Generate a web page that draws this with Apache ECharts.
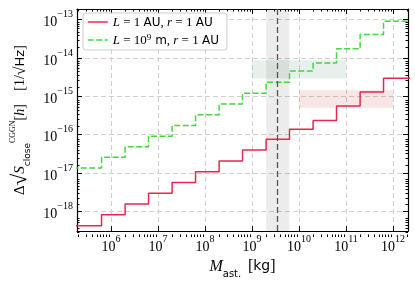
<!DOCTYPE html>
<html><head><meta charset="utf-8">
<script src="https://cdn.jsdelivr.net/npm/echarts@6/dist/echarts.min.js"></script>
<style>html,body{margin:0;padding:0;background:#fff}#c{width:415px;height:284px}</style>
</head><body><div id="c"></div>
<script>
// ---- data ----
const massEdges = [1.5e5, 6.3e5, 2e6, 6.3e6, 2e7, 6.3e7, 2e8, 6.3e8, 2e9, 6.3e9, 2e10, 6.3e10, 2e11, 6.3e11, 3e12];
const redValues = [4.17e-19, 8.1e-19, 1.55e-18, 2.95e-18, 5.6e-18, 1.07e-17, 2.04e-17, 3.98e-17, 7.6e-17, 1.38e-16, 2.34e-16, 5.6e-16, 1.29e-15, 2.95e-15];
const greenValues = [1.35e-17, 2.57e-17, 4.8e-17, 9.1e-17, 1.74e-16, 3.3e-16, 6.3e-16, 1.2e-15, 2.34e-15, 4.6e-15, 7.4e-15, 1.74e-14, 4.1e-14, 9.1e-14];
const seriesNames = ['red', 'green'];
const xTickValues = [1e6, 1e7, 1e8, 1e9, 1e10, 1e11, 1e12];
const yTickValues = [1e-18, 1e-17, 1e-16, 1e-15, 1e-14, 1e-13];
const xRange = [Math.pow(10, 5.277), Math.pow(10, 12.32)];
const yRange = [Math.pow(10, -18.52), Math.pow(10, -12.72)];
const massBand = [2.0e9, 6.2e9];
const massLine = 3.4e9;
const greenBoxX = [1e9, 1e11];
const greenBoxY = [2.9e-15, 8.7e-15];
const redBoxX = [1e10, 1e12];
const redBoxY = [5.0e-16, 1.45e-15];

// ---- helpers ----
function minorTicks(lo, hi) {
  const out = [];
  const e0 = Math.floor(Math.log10(lo)), e1 = Math.ceil(Math.log10(hi));
  for (let e = e0; e <= e1; e++) for (let k = 2; k <= 9; k++) {
    const v = k * Math.pow(10, e);
    if (v >= lo && v <= hi) out.push(v);
  }
  return out;
}
function expLabel(v) {
  const e = Math.round(Math.log10(v));
  return '{b|10}{s|' + (e < 0 ? '\u2212' + (-e) : e) + '}';
}
function steps(vals) {
  const d = vals.map((v, i) => [massEdges[i], v]);
  d.push([massEdges[massEdges.length - 1], vals[vals.length - 1]]);
  return d;
}
const SERIF = "'Liberation Serif','DejaVu Serif',serif";
const SANS = "'DejaVu Sans','Liberation Sans',sans-serif";
const RED = '#e8274f', GREEN = '#44d444';
const tickRich = {
  b: { fontFamily: SERIF, fontSize: 14, color: '#000', lineHeight: 20, verticalAlign: 'bottom' },
  s: { fontFamily: SERIF, fontSize: 10, color: '#000', lineHeight: 10, verticalAlign: 'top' }
};
const xMinor = minorTicks(xRange[0], xRange[1]);
const yMinor = minorTicks(yRange[0], yRange[1]);
const frame = { show: true, lineStyle: { color: '#000', width: 1.2 } };

function xAx(grid, pos, major, labels) {
  return {
    type: 'log', gridIndex: grid, position: pos, min: xRange[0], max: xRange[1],
    axisLine: major ? frame : { show: false },
    axisTick: { show: true, inside: true, length: major ? 5 : 2.5, customValues: major ? xTickValues : xMinor, lineStyle: { color: '#000', width: 1 } },
    axisLabel: labels ? { show: true, customValues: xTickValues, formatter: expLabel, rich: tickRich, margin: 3, color: '#000' } : { show: false },
    splitLine: labels ? { show: true, lineStyle: { type: [5, 3], color: '#d0d0d0', width: 1 } } : { show: false },
    minorTick: { show: false }, minorSplitLine: { show: false },
    name: labels ? '{i|M}{sub|ast.}  {t|[}{a|kg}{t|]}' : '',
    nameLocation: 'middle', nameGap: 23,
    nameTextStyle: { rich: {
      i: { fontFamily: SERIF, fontStyle: 'italic', fontSize: 16, color: '#000', lineHeight: 20, verticalAlign: 'top' },
      sub: { fontFamily: SANS, fontSize: 10, color: '#000', lineHeight: 14, verticalAlign: 'bottom' },
      t: { fontFamily: SERIF, fontSize: 16, color: '#000', lineHeight: 20, verticalAlign: 'top' },
      a: { fontFamily: SANS, fontSize: 14, color: '#000', lineHeight: 20, verticalAlign: 'top' }
    } }
  };
}
function yAx(grid, pos, major, labels) {
  return {
    type: 'log', gridIndex: grid, position: pos, min: yRange[0], max: yRange[1],
    axisLine: major ? frame : { show: false },
    axisTick: { show: true, inside: true, length: major ? 5 : 2.5, customValues: major ? yTickValues : yMinor, lineStyle: { color: '#000', width: 1 } },
    axisLabel: labels ? { show: true, customValues: yTickValues, formatter: expLabel, rich: tickRich, margin: 4, color: '#000' } : { show: false },
    splitLine: labels ? { show: true, lineStyle: { type: [5, 3], color: '#d0d0d0', width: 1 } } : { show: false },
    minorTick: { show: false }, minorSplitLine: { show: false },
    name: labels ? '{d|\u0394}{q|\u221A}{S|S}{sub|close}{sup|CGGN}{t|[}{i|h}{t|]}    {t|[1/}{q2|\u221A}{a|Hz}{t|]}' : '',
    nameLocation: 'middle', nameRotate: 90, nameGap: 27,
    nameTextStyle: { rich: {
      d: { fontFamily: SERIF, fontSize: 15, color: '#000', lineHeight: 24 },
      q: { fontFamily: SERIF, fontSize: 21, color: '#000', lineHeight: 24 },
      q2: { fontFamily: SERIF, fontSize: 16, color: '#000', lineHeight: 24 },
      S: { fontFamily: SERIF, fontStyle: 'italic', fontSize: 15, color: '#000', lineHeight: 24 },
      sub: { fontFamily: SANS, fontSize: 9, color: '#000', lineHeight: 15, verticalAlign: 'bottom' },
      sup: { fontFamily: SERIF, fontSize: 8, color: '#000', lineHeight: 14, verticalAlign: 'top' },
      t: { fontFamily: SERIF, fontSize: 14, color: '#000', lineHeight: 24 },
      i: { fontFamily: SERIF, fontStyle: 'italic', fontSize: 14, color: '#000', lineHeight: 24 },
      a: { fontFamily: SANS, fontSize: 13, color: '#000', lineHeight: 24 }
    } }
  };
}

const legendText = {
  red: '{i|L}{t| = 1 }{a|AU}{t|, }{i|r}{t| = 1 }{a|AU}',
  green: '{i|L}{t| = 10}{sp|9}{a| m}{t|, }{i|r}{t| = 1 }{a|AU}'
};

const chart = echarts.init(document.getElementById('c'), null, { renderer: 'canvas' });
chart.setOption({
  animation: false,
  backgroundColor: '#fff',
  grid: [
    { left: 77, right: 7, top: 9, bottom: 47 },
    { left: 77, right: 7, top: 9, bottom: 47 }
  ],
  xAxis: [xAx(0, 'bottom', true, true), xAx(0, 'top', true, false), xAx(1, 'bottom', false, false), xAx(1, 'top', false, false)],
  yAxis: [yAx(0, 'left', true, true), yAx(0, 'right', true, false), yAx(1, 'left', false, false), yAx(1, 'right', false, false)],
  legend: {
    data: seriesNames, left: 83, top: 13, orient: 'vertical',
    itemWidth: 20, itemHeight: 14, itemGap: 4, padding: [3, 8, 3, 4],
    borderColor: '#cccccc', borderWidth: 1, borderRadius: 3,
    backgroundColor: 'rgba(255,255,255,0.9)',
    itemStyle: { opacity: 0, color: 'rgba(0,0,0,0)', borderWidth: 0 },
    lineStyle: { width: 1.5 },
    formatter: n => legendText[n],
    textStyle: { rich: {
      i: { fontFamily: SERIF, fontStyle: 'italic', fontSize: 13, color: '#000', lineHeight: 14, verticalAlign: 'bottom' },
      t: { fontFamily: SERIF, fontSize: 13, color: '#000', lineHeight: 14, verticalAlign: 'bottom' },
      a: { fontFamily: SANS, fontSize: 12, color: '#000', lineHeight: 14, verticalAlign: 'bottom' },
      sp: { fontFamily: SERIF, fontSize: 9, color: '#000', lineHeight: 8, verticalAlign: 'top' }
    } }
  },
  series: [
    {
      type: 'line', name: 'bands', xAxisIndex: 0, yAxisIndex: 0, data: [], z: 1, silent: true,
      markArea: { silent: true, data: [
        [{ xAxis: massBand[0], itemStyle: { color: 'rgba(0,0,0,0.075)' } }, { xAxis: massBand[1] }],
        [{ coord: [greenBoxX[0], greenBoxY[1]], itemStyle: { color: 'rgba(70,140,90,0.13)' } }, { coord: [greenBoxX[1], greenBoxY[0]] }],
        [{ coord: [redBoxX[0], redBoxY[1]], itemStyle: { color: 'rgba(205,70,70,0.14)' } }, { coord: [redBoxX[1], redBoxY[0]] }]
      ] },
      markLine: { silent: true, symbol: 'none', label: { show: false },
        lineStyle: { type: [6, 3], color: '#555', width: 1.3 }, data: [{ xAxis: massLine }] }
    },
    {
      type: 'line', name: 'red', xAxisIndex: 0, yAxisIndex: 0, step: 'end', symbol: 'none', z: 3,
      data: steps(redValues), lineStyle: { color: RED, width: 1.5 }, itemStyle: { color: RED }
    },
    {
      type: 'line', name: 'green', xAxisIndex: 0, yAxisIndex: 0, step: 'end', symbol: 'none', z: 3,
      data: steps(greenValues), lineStyle: { color: GREEN, width: 1.5, type: [6, 2.5] }, itemStyle: { color: GREEN }
    }
  ]
});
</script></body></html>
